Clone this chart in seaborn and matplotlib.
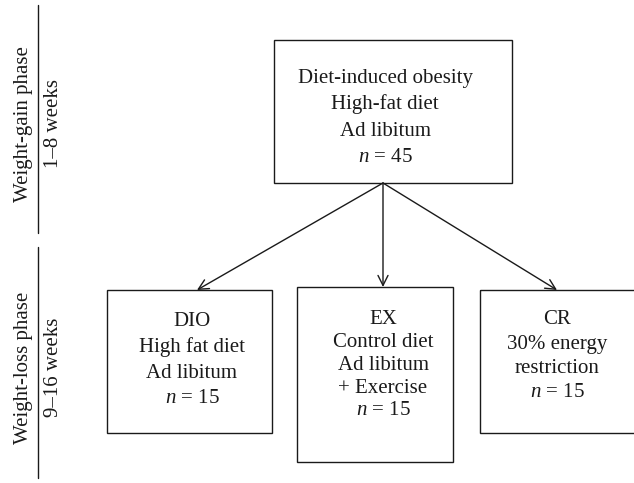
import matplotlib
matplotlib.use("Agg")
import matplotlib.pyplot as plt
import seaborn as sns
from matplotlib.patches import Rectangle

# Flowchart content
phase_titles = ["Weight-gain phase", "Weight-loss phase"]
phase_weeks = ["1\u20138 weeks", "9\u201316 weeks"]

top_lines = ["Diet-induced obesity", "High-fat diet", "Ad libitum", "$n$ = 45"]
group_lines = [
    ["DIO", "High fat diet", "Ad libitum", "$n$ = 15"],
    ["EX", "Control diet", "Ad libitum", "+ Exercise", "$n$ = 15"],
    ["CR", "30% energy", "restriction", "$n$ = 15"],
]

sns.set_style("white")
plt.rcParams["font.family"] = ["Liberation Serif", "DejaVu Serif"]
plt.rcParams["mathtext.fontset"] = "custom"
plt.rcParams["mathtext.rm"] = "Liberation Serif"
plt.rcParams["mathtext.it"] = "Liberation Serif:italic"

fig = plt.figure(figsize=(6.34, 4.83), dpi=100)
ax = fig.add_axes([0, 0, 1, 1])
ax.set_xlim(0, 634)
ax.set_ylim(483, 0)
ax.axis("off")

ink = "#1a1a1a"
fs = 15

# left phase markers
spans = [(5, 233), (247, 478)]
for (y0, y1), title, weeks in zip(spans, phase_titles, phase_weeks):
    ax.plot([38, 38], [y0, y1], color=ink, lw=1.0)
    yc = (y0 + y1) / 2 + 5
    ax.text(24, yc, title, rotation=90, ha="center", va="center", fontsize=fs, color=ink)
    ax.text(54, yc, weeks, rotation=90, ha="center", va="center", fontsize=fs, color=ink)

# top box
ax.add_patch(Rectangle((274, 40), 238, 143, fill=False, ec=ink, lw=1.0))
for i, line in enumerate(top_lines):
    ax.text(385, 78 + i * 26.5, line, ha="center", va="center", fontsize=fs, color=ink)

# bottom boxes: (left, top, width, height, text x, first line y, step)
boxes = [
    (107, 290, 165, 143, 192, 322, 25.5),
    (297, 287, 156, 175, 383, 320, 22.7),
    (480, 290, 200, 143, 557, 320, 24.3),
]
for (x0, y0, w, h, tx, ty, step), lines in zip(boxes, group_lines):
    r = Rectangle((x0, y0), w, h, fill=False, ec=ink, lw=1.0)
    r.set_clip_on(True)
    ax.add_patch(r)
    for i, line in enumerate(lines):
        ax.text(tx, ty + i * step, line, ha="center", va="center", fontsize=fs, color=ink)

# arrows from the top box down to each group
origin = (383, 183)
tips = [(197, 290), (383, 287), (557, 290)]
for tip in tips:
    ax.annotate("", xy=tip, xytext=origin,
                arrowprops=dict(arrowstyle="->", color=ink, lw=1.0,
                                mutation_scale=18, shrinkA=0, shrinkB=0))

fig.savefig("out.png", dpi=100, facecolor="white")
